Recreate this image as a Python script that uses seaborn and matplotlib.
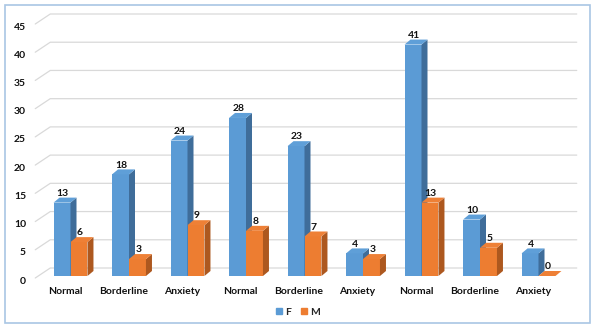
import numpy as np
import pandas as pd
import seaborn as sns
import matplotlib.pyplot as plt
from matplotlib.patches import Polygon, Rectangle
from matplotlib.lines import Line2D
from matplotlib.transforms import ScaledTranslation, IdentityTransform

# data
groups = ['Normal', 'Borderline', 'Anxiety'] * 3
f_vals = [13, 18, 24, 28, 23, 4, 41, 10, 4]
m_vals = [6, 3, 9, 8, 7, 3, 13, 5, 0]
series = ['F', 'M']
y_ticks = list(range(0, 50, 5))

front_col = {'F': '#5b9bd5', 'M': '#ed7d31'}
side_col = {'F': '#3f6d9a', 'M': '#ad581f'}
top_col = {'F': '#5f9fd8', 'M': '#ee8036'}

sns.set_style('white')
plt.rcParams['font.family'] = ['Lato', 'DejaVu Sans']

keys = [f'{g}_{i}' for i, g in enumerate(groups)]
df = pd.DataFrame({
    'key': keys * 2,
    'sex': ['F'] * len(keys) + ['M'] * len(keys),
    'n': f_vals + m_vals,
})

fig = plt.figure(figsize=(5.96, 3.28), dpi=100)
ax = fig.add_axes([41.25 / 596, 52 / 328, 526.5 / 596, 254 / 328])
ax.patch.set_alpha(0)

sns.barplot(data=df, x='key', y='n', hue='sex', order=keys, hue_order=series,
            palette=[front_col[s] for s in series], width=0.58, saturation=1,
            linewidth=0, legend=False, ax=ax)
ax.set_xlim(-0.5, len(keys) - 0.5)
ax.set_ylim(0, 45)

# depth of the bars and the back wall, in pixels
bdx, bdy = 6, 5
wdx, wdy = 9, 8


def px(x, y, dx=0, dy=0):
    p = ax.transData.transform((x, y))
    return (p[0] + dx, p[1] + dy)


# back wall gridlines
x0, x1 = ax.get_xlim()
for k in y_ticks:
    a = px(x0, k, -6, -2)
    b = px(x0, k, wdx, wdy)
    c = px(x1, k, wdx, wdy)
    ax.add_line(Line2D([a[0], b[0], c[0]], [a[1], b[1], c[1]], color='#d9d9d9',
                       lw=0.9, transform=IdentityTransform(), clip_on=False, zorder=1))

# 3d sides / tops + value labels
vals = {'F': f_vals, 'M': m_vals}
n = len(keys)
bars = list(ax.patches)
for j, s in enumerate(series):
    for i in range(n):
        bar = bars[j * n + i]
        z = 3 + j * 0.2
        bar.set_zorder(z)
        xl, w, h = bar.get_x(), bar.get_width(), bar.get_height()
        xr = xl + w
        side = [px(xr, 0), px(xr, h), px(xr, h, bdx, bdy), px(xr, 0, bdx, bdy)]
        top = [px(xl, h), px(xr, h), px(xr, h, bdx, bdy), px(xl, h, bdx, bdy)]
        ax.add_patch(Polygon(side, closed=True, fc=side_col[s], ec='none',
                             transform=IdentityTransform(), clip_on=False, zorder=z + 0.1))
        ax.add_patch(Polygon(top, closed=True, fc=top_col[s], ec='none',
                             transform=IdentityTransform(), clip_on=False, zorder=z + 0.1))
        ax.annotate(str(vals[s][i]), (xl + w / 2, h), xytext=(0.5, 3.5),
                    textcoords='offset points', ha='center', va='bottom',
                    fontsize=7.5, fontweight='bold', color='#111111', zorder=6)

for sp in ax.spines.values():
    sp.set_visible(False)
ax.set_xlabel('')
ax.set_ylabel('')
ax.set_yticks(y_ticks)
ax.set_xticks(range(n))
ax.set_xticklabels(groups)
ax.tick_params(axis='both', length=0, labelsize=7.5, labelcolor='#111111')
ax.tick_params(axis='x', pad=8)
ax.tick_params(axis='y', pad=11)
for lab in ax.get_xticklabels():
    lab.set_fontweight('bold')
    lab.set_transform(lab.get_transform() + ScaledTranslation(-0.055, 0, fig.dpi_scale_trans))
for lab in ax.get_yticklabels():
    lab.set_fontweight('bold')
    lab.set_transform(lab.get_transform() + ScaledTranslation(0, -0.04, fig.dpi_scale_trans))

# legend
handles = [Line2D([], [], marker='s', ls='none', markersize=4.5, color=front_col[s]) for s in series]
fig.legend(handles, series, loc='center', bbox_to_anchor=(0.5, 16 / 328), ncol=2,
           frameon=False, handlelength=0.6, handletextpad=0.3, columnspacing=0.9,
           prop={'size': 7.5, 'weight': 'bold'})

# outer border
fig.patches.append(Rectangle((4.5 / 596, 5 / 328), 585 / 596, 318 / 328, transform=fig.transFigure,
                             fill=False, ec='#a9c6e4', lw=1.2))

fig.savefig('out.png', dpi=100)
